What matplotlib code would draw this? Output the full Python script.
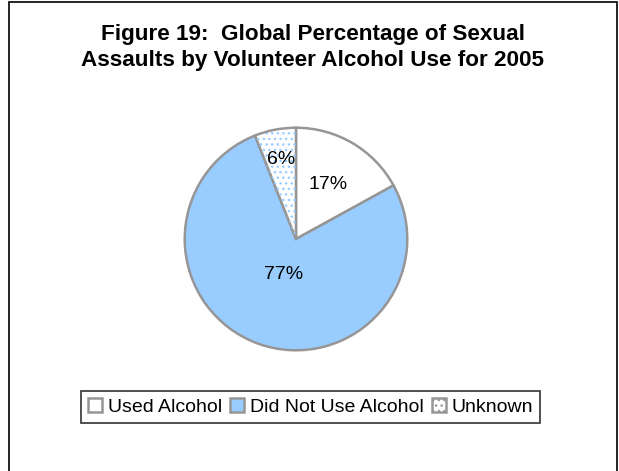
import numpy as np
import matplotlib.pyplot as plt
from matplotlib.patches import Rectangle, Wedge

labels = ["Used Alcohol", "Did Not Use Alcohol", "Unknown"]
shares = [17, 77, 6]
colors = ["#FFFFFF", "#99CCFF", "#FFFFFF"]
label_radius = [0.57, 0.34, 0.73]

plt.rcParams['font.family'] = ['Liberation Sans', 'DejaVu Sans']

fig = plt.figure(figsize=(6.19, 4.71), dpi=100)

# outer frame
fig.patches.append(Rectangle((9/619, -0.02), 608/619, 1.02 - 2/471,
                             transform=fig.transFigure, fill=False,
                             edgecolor='black', linewidth=1.2))

fig.text(0.505, 0.899, "Figure 19:  Global Percentage of Sexual\nAssaults by Volunteer Alcohol Use for 2005",
         ha='center', va='center', fontsize=16.2, fontweight='bold', linespacing=1.33)

cx, cy, r = 296, 239, 113.5
ax = fig.add_axes([(cx - r)/619, 1 - (cy + r)/471, 2*r/619, 2*r/471])
wedges, _ = ax.pie(shares, colors=colors, startangle=90, counterclock=False,
                   wedgeprops=dict(edgecolor='#969696', linewidth=1.8))
ax.set_xlim(-1.02, 1.02)
ax.set_ylim(-1.02, 1.02)
ax.set_aspect('equal')
ax.axis('off')

# dotted fill for the "Unknown" slice
w = wedges[2]
dots = Wedge(w.center, w.r * 0.99, w.theta1, w.theta2, facecolor='none',
             edgecolor='#99CCFF', hatch='...', linewidth=0, zorder=3)
ax.add_patch(dots)

for wd, val, rad in zip(wedges, shares, label_radius):
    mid = np.deg2rad((wd.theta1 + wd.theta2) / 2)
    ax.text(rad * np.cos(mid), rad * np.sin(mid), f"{val}%",
            ha='center', va='center', fontsize=14, zorder=5)

leg = fig.legend(wedges, labels, loc='center', bbox_to_anchor=(0.502, 0.136),
                 ncol=3, fontsize=14, frameon=True, fancybox=False,
                 edgecolor='black', handlelength=0.7, handleheight=0.7,
                 handletextpad=0.3, columnspacing=0.45, borderpad=0.35,
                 borderaxespad=0)
leg.get_frame().set_linewidth(1.2)
leg.legend_handles[2].set_hatch('...')

fig.savefig("out.png", dpi=100)
